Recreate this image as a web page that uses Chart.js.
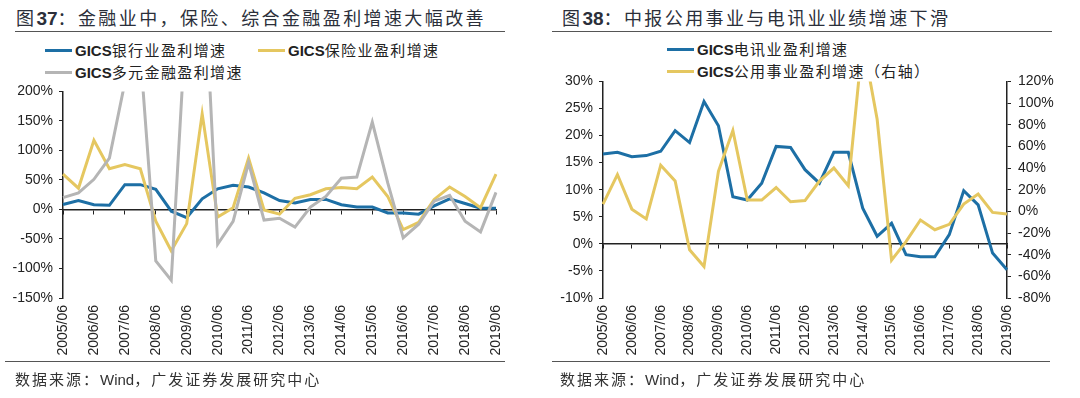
<!DOCTYPE html>
<html>
<head>
<meta charset="utf-8">
<script src="https://cdn.jsdelivr.net/npm/chart.js@4.4.0/dist/chart.umd.min.js"></script>
<style>
body { margin: 0; width: 1080px; height: 398px; background: #fff; position: relative; overflow: hidden; font-family: "Liberation Sans", "Noto Sans CJK SC", sans-serif; color: #222; }
.title { position: absolute; top: 6px; font-family: "Noto Sans CJK SC", sans-serif; font-size: 18px; line-height: 22px; letter-spacing: 2.4px; color: #2b2f3a; white-space: nowrap; }
.title b { font-family: "Liberation Sans", sans-serif; font-size: 19px; letter-spacing: 0; }
.rule { position: absolute; height: 0; border-top: 1px solid #555; }
.leg { position: absolute; font-size: 15px; line-height: 18px; white-space: nowrap; font-family: "Noto Sans CJK SC", sans-serif; letter-spacing: 1.4px; color: #222; }
.leg b { font-family: "Liberation Sans", sans-serif; letter-spacing: 0; }
.sw { display: inline-block; width: 27px; height: 3px; vertical-align: middle; margin-right: 3px; position: relative; top: -1px; }
.src { position: absolute; top: 370px; font-family: "Noto Sans CJK SC", sans-serif; font-size: 15px; line-height: 18px; letter-spacing: 2px; color: #333; white-space: nowrap; }
.src span { font-family: "Liberation Sans", sans-serif; letter-spacing: 0; }
canvas { position: absolute; }
</style>
</head>
<body>

<div class="title" style="left:16px">图<b>37</b>：金融业中，保险、综合金融盈利增速大幅改善</div>
<div class="rule" style="left:15px;width:490px;top:31px"></div>
<div class="leg" style="left:45px;top:41px"><span class="sw" style="background:#1d6fa5"></span><b>GICS</b>银行业盈利增速</div>
<div class="leg" style="left:258px;top:41px"><span class="sw" style="background:#e5c760"></span><b>GICS</b>保险业盈利增速</div>
<div class="leg" style="left:45px;top:63px"><span class="sw" style="background:#b5b5b5"></span><b>GICS</b>多元金融盈利增速</div>
<canvas id="chart37" width="540" height="293" style="left:0;top:77px"></canvas>
<div class="rule" style="left:5px;width:500px;top:361px"></div>
<div class="src" style="left:15px">数据来源：<span>Wind</span>，广发证券发展研究中心</div>

<div class="title" style="left:562px">图<b>38</b>：中报公用事业与电讯业业绩增速下滑</div>
<div class="rule" style="left:552px;width:500px;top:31px"></div>
<div class="leg" style="left:667px;top:40px"><span class="sw" style="background:#1d6fa5"></span><b>GICS</b>电讯业盈利增速</div>
<div class="leg" style="left:667px;top:62px"><span class="sw" style="background:#e5c760"></span><b>GICS</b>公用事业盈利增速（右轴）</div>
<canvas id="chart38" width="540" height="304" style="left:540px;top:66px"></canvas>
<div class="rule" style="left:552px;width:498px;top:361px"></div>
<div class="src" style="left:560px">数据来源：<span>Wind</span>，广发证券发展研究中心</div>

<script>
Chart.defaults.font.family = 'Liberation Sans';
Chart.defaults.font.size = 14;
Chart.defaults.color = '#222';

// 半年度数据，只标注每年 06
const periods = ['2005/06', '2005/12', '2006/06', '2006/12', '2007/06', '2007/12', '2008/06', '2008/12',
    '2009/06', '2009/12', '2010/06', '2010/12', '2011/06', '2011/12', '2012/06', '2012/12',
    '2013/06', '2013/12', '2014/06', '2014/12', '2015/06', '2015/12', '2016/06', '2016/12',
    '2017/06', '2017/12', '2018/06', '2018/12', '2019/06'];

// 图37 (%)
const bankGrowth = [8.5, 15, 8, 7, 42, 42, 34, -3, -14, 18, 35, 41, 38, 28, 15,
    11, 17, 17, 8, 4, 4, -6, -6, -8, 6, 18, 10, 2, 2];
const insuranceGrowth = [60, 36, 117, 69, 76, 69, -20, -70, -24, 162, -13, 3, 87, -1, -8,
    19, 25, 35, 37, 35, 55, 22, -34, -22, 17, 38, 22, 3, 60];
const diversifiedGrowth = [20, 28, 51, 87, 215, 265, -87, -120, 340, 470, -59, -20, 79, -18, -15,
    -30, 4, 22, 53, 55, 148, 45, -48, -25, 14, 24, -20, -38, 29];

// 图38 (%)
const telecomGrowth = [16.6, 16.9, 16.1, 16.3, 17.1, 20.9, 18.7, 26.3, 21.8, 8.7, 8.1, 11.2, 18, 17.8, 13.7,
    11.2, 16.9, 16.9, 6.6, 1.4, 3.8, -2, -2.4, -2.4, 1.7, 9.8, 7.2, -1.7, -4.8];
const utilitiesGrowth = [6.7, 34, 2, -7, 42.6, 28, -35.5, -51, 37, 74.7, 10.4, 10.4, 22, 8.9, 10,
    28, 40, 23.6, 158, 85, -45, -28, -8, -17, -12, 6.7, 16, -1, -2.5];

const BLUE = '#1d6fa5';
const YELLOW = '#e5c760';
const GRAY = '#b5b5b5';
const AXIS = '#222';

function pct(v) { return v + '%'; }

// x轴标签放在底部，零线另用一条轴
function bottomAxis(h) {
    return {
        type: 'category',
        offset: false,
        grid: { display: false, drawTicks: false },
        border: { display: false },
        ticks: {
            autoSkip: false, maxRotation: 90, minRotation: 90, padding: 7,
            callback: (v, i) => i % 2 === 0 ? periods[i] : ''
        },
        afterFit: s => { s.height = h; }
    };
}

function zeroAxis(yId) {
    return {
        type: 'category',
        axis: 'x',
        position: { [yId]: 0 },
        offset: false,
        grid: {
            display: true, drawOnChartArea: false, tickLength: 4,
            tickColor: c => c.index % 2 === 0 ? AXIS : 'rgba(0,0,0,0)'
        },
        border: { color: AXIS, width: 1.5 },
        ticks: { display: false, autoSkip: false }
    };
}

const chart37 = new Chart(document.getElementById('chart37'), {
    type: 'line',
    data: {
        labels: periods,
        datasets: [
            { label: 'GICS银行业盈利增速', data: bankGrowth, borderColor: BLUE, order: 2 },
            { label: 'GICS保险业盈利增速', data: insuranceGrowth, borderColor: YELLOW, order: 1 },
            { label: 'GICS多元金融盈利增速', data: diversifiedGrowth, borderColor: GRAY, order: 0 }
        ]
    },
    options: {
        responsive: false,
        animation: false,
        layout: { padding: { top: 7, right: 44, left: 0, bottom: 0 } },
        elements: { line: { borderWidth: 3, tension: 0 }, point: { radius: 0 } },
        plugins: { legend: { display: false }, tooltip: { enabled: false } },
        scales: {
            x: bottomAxis(72),
            x2: zeroAxis('y'),
            y: {
                min: -150, max: 200,
                ticks: { stepSize: 50, padding: 6, callback: pct },
                grid: { drawOnChartArea: false, tickLength: 4, tickColor: AXIS },
                border: { color: AXIS, width: 1.5 },
                afterFit: s => { s.width = 63; }
            }
        }
    }
});

const chart38 = new Chart(document.getElementById('chart38'), {
    type: 'line',
    data: {
        labels: periods,
        datasets: [
            { label: 'GICS电讯业盈利增速', data: telecomGrowth, borderColor: BLUE, yAxisID: 'y', order: 1 },
            { label: 'GICS公用事业盈利增速（右轴）', data: utilitiesGrowth, borderColor: YELLOW, yAxisID: 'y1', order: 0 }
        ]
    },
    options: {
        responsive: false,
        animation: false,
        layout: { padding: { top: 6, right: 0, left: 0, bottom: 0 } },
        elements: { line: { borderWidth: 3, tension: 0 }, point: { radius: 0 } },
        plugins: { legend: { display: false }, tooltip: { enabled: false } },
        scales: {
            x: bottomAxis(72),
            x2: zeroAxis('y'),
            y: {
                min: -10, max: 30,
                ticks: { stepSize: 5, padding: 6, callback: pct },
                grid: { drawOnChartArea: false, tickLength: 4, tickColor: AXIS },
                border: { color: AXIS, width: 1.5 },
                afterFit: s => { s.width = 63; }
            },
            y1: {
                position: 'right',
                min: -80, max: 120,
                ticks: { stepSize: 20, padding: 7, callback: pct },
                grid: { drawOnChartArea: false, tickLength: 4, tickColor: AXIS },
                border: { color: AXIS, width: 1.5 },
                afterFit: s => { s.width = 73; }
            }
        }
    }
});
</script>
</body>
</html>
